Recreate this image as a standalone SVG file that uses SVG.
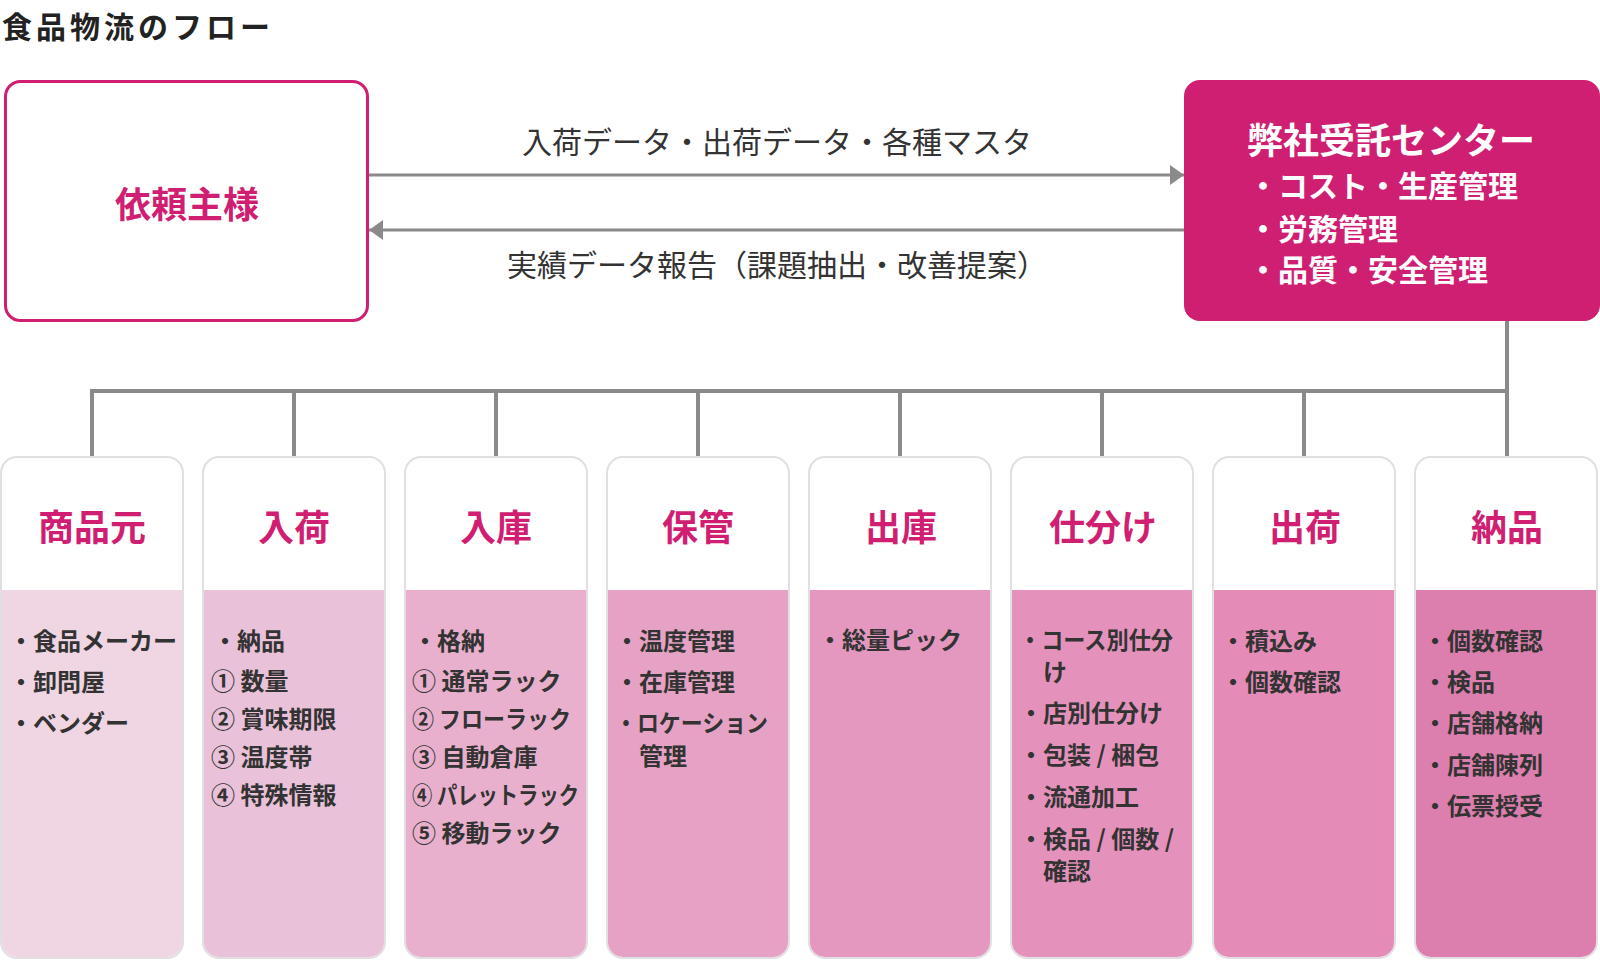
<svg xmlns="http://www.w3.org/2000/svg" width="1600" height="962" viewBox="0 0 1600 962">
<defs>
<style>
text{font-family:"Noto Sans CJK JP","Noto Sans",sans-serif;}
.title{font-size:30px;font-weight:700;fill:#222;letter-spacing:4px;}
.lbl{font-size:30px;font-weight:400;fill:#333;}
.conn{stroke:#8a8a8a;stroke-width:4;fill:none;}
.arr{stroke:#8a8a8a;stroke-width:3;fill:none;}
.colbox{fill:#fff;stroke:#e2dfe2;stroke-width:2;}
.head{font-size:36px;font-weight:700;fill:#d01f72;text-anchor:middle;}
.item{font-size:24px;font-weight:700;fill:#333;}
.ctr{font-size:36px;font-weight:700;fill:#fff;text-anchor:middle;}
.ctrb{font-size:30px;font-weight:700;fill:#fff;}
</style>
<marker id="ah" viewBox="0 0 14 20" refX="14" refY="10" markerWidth="14" markerHeight="20" markerUnits="userSpaceOnUse" orient="auto">
<path d="M0,0 L14,10 L0,20 Z" fill="#8a8a8a"/>
</marker>
</defs>
<rect width="1600" height="962" fill="#fff"/>
<text class="title" x="2" y="38">食品物流のフロー</text>

<g id="client">
<rect x="5.5" y="81.5" width="362" height="239" rx="15" fill="#fff" stroke="#d01f72" stroke-width="3"/>
<text x="187" y="218" style="font-size:36px;font-weight:700;fill:#d01f72;text-anchor:middle;">依頼主様</text>
</g>

<g id="center">
<rect x="1184" y="80" width="416" height="241" rx="16" fill="#cf1f72"/>
<text class="ctr" x="1391" y="154">弊社受託センター</text>
<text class="ctrb" x="1248" y="197">・コスト・生産管理</text>
<text class="ctrb" x="1248" y="240">・労務管理</text>
<text class="ctrb" x="1248" y="281">・品質・安全管理</text>
</g>

<g id="connectors">
<line class="arr" x1="369" y1="175" x2="1184" y2="175" marker-end="url(#ah)"/>
<line class="arr" x1="1184" y1="230" x2="369" y2="230" marker-end="url(#ah)"/>
<text class="lbl" x="777" y="153" text-anchor="middle">入荷データ・出荷データ・各種マスタ</text>
<text class="lbl" x="777" y="276" text-anchor="middle">実績データ報告（課題抽出・改善提案）</text>
<path class="conn" d="M1507,321 V458"/>
<path class="conn" d="M92,458 V391 H1507"/>
<path class="conn" d="M294,391 V458 M496,391 V458 M698,391 V458 M900,391 V458 M1102,391 V458 M1304,391 V458"/>
</g>

<g id="col1">
<rect class="colbox" x="1" y="457" width="182" height="501" rx="16"/>
<path d="M2,590 H182 V942 A15,15 0 0 1 167,957 H17 A15,15 0 0 1 2,942 Z" fill="#f0d5e3"/>
<text class="head" x="92" y="541">商品元</text>
<text class="item" x="9" y="650">・食品メーカー</text>
<text class="item" x="9" y="691">・卸問屋</text>
<text class="item" x="9" y="732">・ベンダー</text>
</g>

<g id="col2">
<rect class="colbox" x="203" y="457" width="182" height="501" rx="16"/>
<path d="M204,590 H384 V942 A15,15 0 0 1 369,957 H219 A15,15 0 0 1 204,942 Z" fill="#e9c1d8"/>
<text class="head" x="294" y="541">入荷</text>
<text class="item" x="213" y="650">・納品</text>
<text class="item" x="211" y="690">① 数量</text>
<text class="item" x="211" y="728">② 賞味期限</text>
<text class="item" x="211" y="766">③ 温度帯</text>
<text class="item" x="211" y="804">④ 特殊情報</text>
</g>

<g id="col3">
<rect class="colbox" x="405" y="457" width="182" height="501" rx="16"/>
<path d="M406,590 H586 V942 A15,15 0 0 1 571,957 H421 A15,15 0 0 1 406,942 Z" fill="#e8b0cc"/>
<text class="head" x="496" y="541">入庫</text>
<text class="item" x="413" y="650">・格納</text>
<text class="item" x="412" y="690">① 通常ラック</text>
<text class="item" x="412" y="728" textLength="159" lengthAdjust="spacingAndGlyphs">② フローラック</text>
<text class="item" x="412" y="766">③ 自動倉庫</text>
<text class="item" x="412" y="804" textLength="167" lengthAdjust="spacingAndGlyphs">④ パレットラック</text>
<text class="item" x="412" y="842">⑤ 移動ラック</text>
</g>

<g id="col4">
<rect class="colbox" x="607" y="457" width="182" height="501" rx="16"/>
<path d="M608,590 H788 V942 A15,15 0 0 1 773,957 H623 A15,15 0 0 1 608,942 Z" fill="#e6a2c4"/>
<text class="head" x="698" y="541">保管</text>
<text class="item" x="615" y="650">・温度管理</text>
<text class="item" x="615" y="691">・在庫管理</text>
<text class="item" x="615" y="732" textLength="153" lengthAdjust="spacingAndGlyphs">・ロケーション</text>
<text class="item" x="639" y="765">管理</text>
</g>

<g id="col5">
<rect class="colbox" x="809" y="457" width="182" height="501" rx="16"/>
<path d="M810,590 H990 V942 A15,15 0 0 1 975,957 H825 A15,15 0 0 1 810,942 Z" fill="#e498bf"/>
<text class="head" x="901" y="541">出庫</text>
<text class="item" x="818" y="649">・総量ピック</text>
</g>

<g id="col6">
<rect class="colbox" x="1011" y="457" width="182" height="501" rx="16"/>
<path d="M1012,590 H1192 V942 A15,15 0 0 1 1177,957 H1027 A15,15 0 0 1 1012,942 Z" fill="#e492bb"/>
<text class="head" x="1103" y="541">仕分け</text>
<text class="item" x="1019" y="649" textLength="154" lengthAdjust="spacingAndGlyphs">・コース別仕分</text>
<text class="item" x="1043" y="681">け</text>
<text class="item" x="1019" y="722">・店別仕分け</text>
<text class="item" x="1019" y="764">・包装 / 梱包</text>
<text class="item" x="1019" y="806">・流通加工</text>
<text class="item" x="1019" y="848">・検品 / 個数 /</text>
<text class="item" x="1043" y="880">確認</text>
</g>

<g id="col7">
<rect class="colbox" x="1213" y="457" width="182" height="501" rx="16"/>
<path d="M1214,590 H1394 V942 A15,15 0 0 1 1379,957 H1229 A15,15 0 0 1 1214,942 Z" fill="#e48bb7"/>
<text class="head" x="1305" y="541">出荷</text>
<text class="item" x="1221" y="650">・積込み</text>
<text class="item" x="1221" y="691">・個数確認</text>
</g>

<g id="col8">
<rect class="colbox" x="1415" y="457" width="182" height="501" rx="16"/>
<path d="M1416,590 H1596 V942 A15,15 0 0 1 1581,957 H1431 A15,15 0 0 1 1416,942 Z" fill="#dc7fae"/>
<text class="head" x="1507" y="541">納品</text>
<text class="item" x="1423" y="650">・個数確認</text>
<text class="item" x="1423" y="691">・検品</text>
<text class="item" x="1423" y="732">・店舗格納</text>
<text class="item" x="1423" y="774">・店舗陳列</text>
<text class="item" x="1423" y="815">・伝票授受</text>
</g>
</svg>
